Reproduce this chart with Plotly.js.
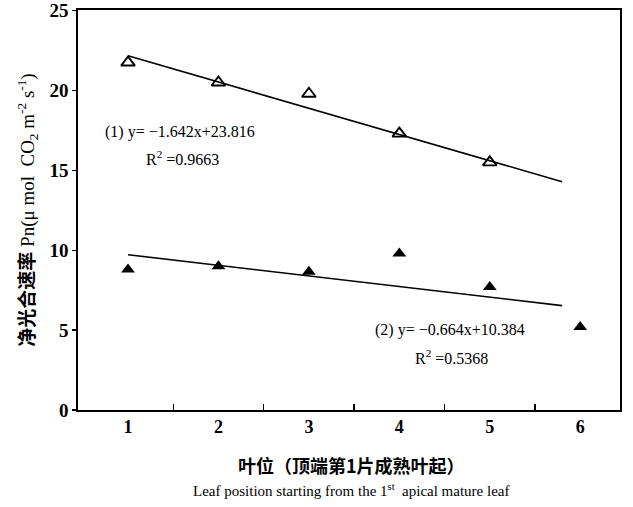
<!DOCTYPE html>
<html>
<head>
<meta charset="utf-8">
<script src="https://cdn.plot.ly/plotly-3.0.1.min.js"></script>
<style>html,body{margin:0;padding:0;background:#fff;}</style>
</head>
<body>
<div id="chart" style="width:633px;height:507px;"></div>
<script>
// Data
const leafPos = [1, 2, 3, 4, 5, 6];
const leafPosS1 = [1, 2, 3, 4, 5];
const pnSeries1 = [21.75, 20.5, 19.8, 17.3, 15.5];
const pnSeries2 = [8.8, 9.0, 8.65, 9.8, 7.7, 5.2];
const fitSlope = [-1.642, -0.664];
const fitIntercept = [23.816, 10.384];
const fitXRange = [1, 5.8];
const yTickVals = [0, 5, 10, 15, 20, 25];
const xTickLabels = ['1', '2', '3', '4', '5', '6'];

const fitLine = (i) => ({
  x: fitXRange,
  y: fitXRange.map(x => fitSlope[i] * x + fitIntercept[i]),
  mode: 'lines', type: 'scatter',
  line: {color: '#000', width: 1.6},
  hoverinfo: 'skip', showlegend: false
});

const serif = 'Liberation Serif, Times New Roman, Noto Sans CJK SC, serif';

const data = [
  fitLine(0),
  fitLine(1),
  {x: leafPosS1, y: pnSeries1, mode: 'markers', type: 'scatter',
   marker: {symbol: 'triangle-up-open', size: 12, color: '#000', line: {width: 1.9, color: '#000'}},
   showlegend: false},
  {x: leafPos, y: pnSeries2, mode: 'markers', type: 'scatter',
   marker: {symbol: 'triangle-up', size: 12, color: '#000', line: {width: 0}},
   showlegend: false}
];

const annFont = {family: serif, size: 16, color: '#000'};
const layout = {
  width: 633, height: 507,
  margin: {l: 78, r: 13, t: 10, b: 97},
  paper_bgcolor: '#fff', plot_bgcolor: '#fff',
  showlegend: false,
  font: {family: serif, color: '#000'},
  xaxis: {
    range: [0.447, 6.44],
    tickvals: leafPos, ticktext: xTickLabels,
    ticks: 'inside', ticklen: 0,
    minor: {tickvals: [1.5, 2.5, 3.5, 4.5, 5.5], ticks: 'inside', ticklen: 6, tickwidth: 1.3, tickcolor: '#000', showgrid: false},
    showgrid: false, zeroline: false,
    showline: true, linecolor: '#000', linewidth: 1.6, mirror: true,
    tickfont: {family: serif, size: 18, color: '#000', weight: 'bold'}
  },
  yaxis: {
    range: [0, 25.04],
    tickvals: yTickVals,
    ticks: 'outside', ticklen: 4, tickwidth: 1.3, tickcolor: '#000',
    showgrid: false, zeroline: false,
    showline: true, linecolor: '#000', linewidth: 1.6, mirror: true,
    ticklabeloverflow: 'allow',
    tickfont: {family: serif, size: 19, color: '#000', weight: 'bold'},
    title: {text: '<b>净光合速率</b> Pn(μ mol  CO<sub>2</sub> m<sup>-2</sup> s<sup>-1</sup>)',
            font: {family: serif, size: 19, color: '#000'}, standoff: 10}
  },
  annotations: [
    {xref: 'x', yref: 'y', x: 1.575, y: 17.4, text: '(1) y= −1.642x+23.816', showarrow: false, font: annFont},
    {xref: 'x', yref: 'y', x: 1.6, y: 15.75, text: 'R<sup>2</sup> =0.9663', showarrow: false, font: annFont},
    {xref: 'x', yref: 'y', x: 4.56, y: 5.0, text: '(2) y= −0.664x+10.384', showarrow: false, font: annFont},
    {xref: 'x', yref: 'y', x: 4.58, y: 3.3, text: 'R<sup>2</sup> =0.5368', showarrow: false, font: annFont},
    {xref: 'paper', yref: 'paper', x: 0.505, y: -0.137, yanchor: 'middle', xanchor: 'center',
     text: '<b>叶位（顶端第1片成熟叶起）</b>', showarrow: false,
     font: {family: 'Noto Sans CJK SC, serif', size: 18, color: '#000'}},
    {xref: 'paper', yref: 'paper', x: 0.505, y: -0.2, yanchor: 'middle', xanchor: 'center',
     text: 'Leaf position starting from the 1<sup>st</sup>  apical mature leaf', showarrow: false,
     font: {family: serif, size: 15, color: '#000'}}
  ]
};

Plotly.newPlot('chart', data, layout, {displayModeBar: false, staticPlot: true});
</script>
</body>
</html>
